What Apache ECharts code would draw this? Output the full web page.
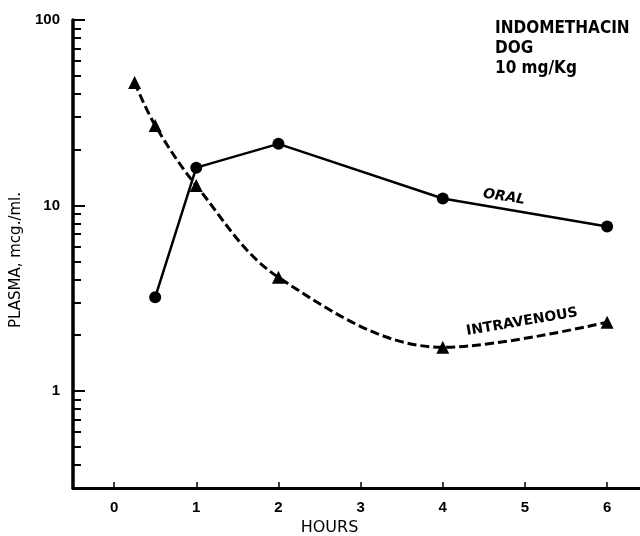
<!DOCTYPE html>
<html>
<head>
<meta charset="utf-8">
<script src="https://cdn.jsdelivr.net/npm/echarts@6/dist/echarts.min.js"></script>
<style>
html,body{margin:0;padding:0;background:#fff;}
#chart{width:640px;height:536px;}
</style>
</head>
<body>
<div id="chart"></div>
<script>
// Data (hours, plasma mcg/ml)
const oralHours = [0.5, 1, 2, 4, 6];
const oralValues = [3.2, 16.0, 21.5, 10.9, 7.7];
const ivHours = [0.25, 0.5, 1, 2, 4, 6];
const ivValues = [46, 27, 12.8, 4.1, 1.72, 2.35];
const xTickLabels = [0, 1, 2, 3, 4, 5, 6];
const yMajorTicks = [1, 10, 100];
const yMinorTicks = [0.4, 0.5, 0.6, 0.7, 0.8, 0.9, 2, 3, 4, 5, 6, 7, 8, 9, 20, 30, 40, 50, 60, 70, 80, 90];
const annotation = ['INDOMETHACIN', 'DOG', '10 mg/Kg'];
const seriesNames = ['ORAL', 'INTRAVENOUS'];

const chart = echarts.init(document.getElementById('chart'), null, {renderer: 'canvas'});
const ink = '#000';
const tickFont = {color: ink, fontFamily: '"Liberation Sans", Arial, sans-serif', fontWeight: 'bold', fontSize: 15};

const option = {
  backgroundColor: '#fff',
  animation: false,
  grid: {left: 73, right: 0, top: 20, bottom: 48, containLabel: false, outerBoundsMode: 'none'},
  xAxis: {
    type: 'value', min: -0.5, max: 6.4,
    axisLine: {show: true, onZero: false, lineStyle: {color: ink, width: 3}},
    axisTick: {show: true, inside: true, length: 6, lineStyle: {color: ink, width: 1.5}, customValues: xTickLabels},
    axisLabel: {customValues: xTickLabels, margin: 12, ...tickFont},
    splitLine: {show: false},
    name: 'HOURS', nameLocation: 'middle', nameGap: 30,
    nameTextStyle: {color: ink, fontFamily: '"DejaVu Sans", sans-serif', fontSize: 16, padding: [0, 54, 0, 0]}
  },
  yAxis: [{
    type: 'log', logBase: 10, min: 0.3, max: 100, position: 'left',
    axisLine: {show: true, onZero: false, lineStyle: {color: ink, width: 3.5}},
    axisTick: {show: true, inside: true, length: 12, lineStyle: {color: ink, width: 2}, customValues: yMajorTicks},
    axisLabel: {customValues: yMajorTicks, margin: 13, ...tickFont, formatter: v => String(Math.round(v))},
    splitLine: {show: false},
    name: 'PLASMA, mcg./ml.', nameLocation: 'middle', nameGap: 43, nameRotate: 90,
    nameTextStyle: {color: ink, fontFamily: '"DejaVu Sans", sans-serif', fontSize: 15, padding: [0, 12, 0, 0]}
  }, {
    type: 'log', logBase: 10, min: 0.3, max: 100, position: 'left', offset: 0,
    axisLine: {show: false, onZero: false},
    axisTick: {show: true, inside: true, length: 8, lineStyle: {color: ink, width: 2}, customValues: yMinorTicks},
    axisLabel: {show: false},
    splitLine: {show: false}
  }],
  series: [{
    name: seriesNames[0], type: 'line',
    data: oralHours.map((h, i) => [h, oralValues[i]]),
    symbol: 'circle', symbolSize: 12,
    itemStyle: {color: ink},
    lineStyle: {color: ink, width: 2.5, type: 'solid'},
    smooth: false
  }, {
    name: seriesNames[1], type: 'line',
    data: ivHours.map((h, i) => [h, ivValues[i]]),
    symbol: 'triangle', symbolSize: 13,
    itemStyle: {color: ink},
    lineStyle: {color: ink, width: 3, type: [9, 4]},
    smooth: 0.35
  }],
  graphic: [{
    type: 'text', left: 495, top: 19,
    style: {text: annotation.join('\n'), fill: ink, font: 'bold 17px "Liberation Sans Narrow", "DejaVu Sans Condensed", sans-serif', lineHeight: 20}
  }, {
    type: 'text', x: 504, y: 197, rotation: -0.15,
    style: {text: seriesNames[0], fill: ink, font: 'italic bold 14px "DejaVu Sans", sans-serif', align: 'center', verticalAlign: 'middle'}
  }, {
    type: 'text', x: 522, y: 322, rotation: 0.17,
    style: {text: seriesNames[1], fill: ink, font: 'bold 14px "DejaVu Sans", sans-serif', align: 'center', verticalAlign: 'middle'}
  }]
};
chart.setOption(option);
</script>
</body>
</html>
